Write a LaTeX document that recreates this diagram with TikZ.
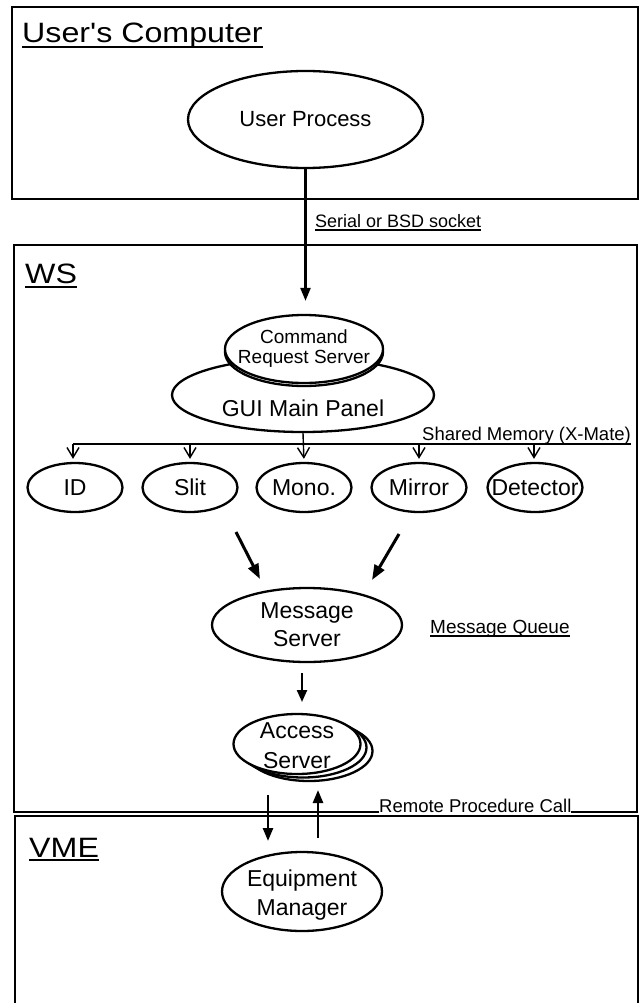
\documentclass[tikz,border=0pt]{standalone}
\usepackage{fontspec}
\usepackage{graphicx}
\setmainfont{Liberation Sans}[Ligatures=TeXOff]
\usetikzlibrary{shapes.geometric,arrows.meta}
\newcommand\fsz[2]{\fontsize{#1}{#2}\selectfont}
\begin{document}
\begin{tikzpicture}[x=1pt,y=-1pt,
  box/.style={draw, line width=2.7pt},
  ell/.style={draw, ellipse, line width=2.3pt, fill=white, inner sep=0pt},
  lbl/.style={inner sep=0pt, align=center},
  ttl/.style={inner sep=0pt, anchor=base west, font=\fsz{28}{33}},
  note/.style={inner sep=0pt, anchor=base west},
  uline/.style={line width=1.4pt},
  tline/.style={line width=2pt},
  bigarrow/.style={-{Triangle[length=15pt,width=11pt]}, line width=3pt},
  midarrow/.style={-{Triangle[length=13pt,width=10pt]}, line width=2.3pt},
  drop/.style={-{Straight Barb[length=10pt,width=12pt]}, line width=1.4pt},
]
\useasboundingbox (0,0) rectangle (640,1003);
\fill[white] (0,0) rectangle (640,1003);

% frames
\draw[box] (12,7) rectangle (638,199);
\draw[box] (14,245) rectangle (637,812);
\draw[box] (15,816) rectangle (638,1014);

% titles
\node[ttl] (tuc) at (22,43) {\scalebox{1.15}[1]{User's Computer}};
\draw[tline] ([yshift=-4pt]tuc.base west) -- ([yshift=-4pt]tuc.base east);
\node[ttl] (tws) at (25,283) {\scalebox{1.15}[1]{WS}};
\draw[tline] ([yshift=-4pt]tws.base west) -- ([yshift=-4pt]tws.base east);
\node[ttl] (tvme) at (29,857) {\scalebox{1.15}[1]{VME}};
\draw[tline] ([yshift=-3pt]tvme.base west) -- ([yshift=-3pt]tvme.base east);

% user process
\node[ell, minimum width=235pt, minimum height=97pt,
  label={[lbl,font=\fsz{22}{26}]center:User Process}] (up) at (305.5,119.5) {};

% GUI main panel and command request server
\node[ell, minimum width=262pt, minimum height=74pt,
  label={[lbl,font=\fsz{23}{27},yshift=-13.5pt]center:GUI Main Panel}] (gui) at (303,395) {};
\node[ell, minimum width=158pt, minimum height=68pt] (crsb) at (304,352) {};
\node[ell, minimum width=158pt, minimum height=68pt,
  label={[lbl,font=\fsz{19}{20}]center:Command\\Request Server}] (crs) at (304,349) {};

% device panels
\foreach \n/\x/\t in {id/75/ID, slit/190/Slit, mono/304/Mono., mirror/419/Mirror, det/535/Detector}{
  \node[ell, minimum width=95pt, minimum height=49pt,
    label={[lbl,font=\fsz{23}{27}]center:\t}] (\n) at (\x,487.5) {};
}

% message server
\node[ell, minimum width=190pt, minimum height=74pt,
  label={[lbl,font=\fsz{23}{28}]center:Message\\Server}] (ms) at (307,625) {};

% access server stack
\node[ell, minimum width=127pt, minimum height=60pt] (as3) at (309,751) {};
\node[ell, minimum width=127pt, minimum height=60pt] (as2) at (303,747.5) {};
\node[ell, minimum width=127pt, minimum height=60pt,
  label={[lbl,font=\fsz{23}{30},yshift=-2pt]center:Access\\Server}] (as) at (297,744) {};

% equipment manager
\node[ell, minimum width=160pt, minimum height=79pt,
  label={[lbl,font=\fsz{23}{29},yshift=-4pt]center:Equipment\\Manager}] (em) at (302,891.5) {};

% connection user process -> command request server
\draw[midarrow, shorten >=13pt] (up.south) -- (up.south |- crs.north);
\node[note, font=\fsz{18}{21}] (serial) at (315,227) {Serial or BSD socket};
\draw[uline] ([yshift=-3pt]serial.base west) -- ([yshift=-3pt]serial.base east);

% shared memory bus
\coordinate (busL) at (73,444);
\coordinate (busR) at (534,444);
\node[note, font=\fsz{18.5}{22}] (shm) at (422,440) {Shared Memory (X-Mate)};
\draw[uline] ([yshift=-4pt]shm.base west) -- ([yshift=-4pt]shm.base east);
\draw[line width=2.5pt] (busL) -- (busR);
\draw[drop, shorten >=3pt] (gui.south) -- (mono.north);
\draw[drop, shorten >=3pt] (busL) -- (busL |- id.north);
\draw[drop, shorten >=3pt] (slit.north |- busL) -- (slit.north);
\draw[drop, shorten >=3pt] (mirror.north |- busL) -- (mirror.north);
\draw[drop, shorten >=3pt] (busR) -- (busR |- det.north);

% into message server
\coordinate (dA1) at (236,532);
\coordinate (dA2) at (260,579);
\coordinate (dB1) at (399,534);
\coordinate (dB2) at (372,580);
\draw[bigarrow] (dA1) -- (dA2);
\draw[bigarrow] (dB1) -- (dB2);
\node[note, font=\fsz{19}{22}] (mq) at (430,633) {Message Queue};
\draw[uline] ([yshift=-3pt]mq.base west) -- ([yshift=-3pt]mq.base east);

% message server -> access server
\coordinate (m1) at (302,673);
\coordinate (m2) at (302,702);
\draw[-{Triangle[length=12pt,width=10pt]}, line width=2.2pt] (m1) -- (m2);

% RPC
\node[note, font=\fsz{18.5}{22}, fill=white, text depth=2pt] (rpc) at (379,812) {Remote Procedure Call};
\coordinate (r1) at (268,795);
\coordinate (r2) at (268,841);
\coordinate (r3) at (318,838);
\coordinate (r4) at (318,790);
\draw[midarrow, line width=2.5pt] (r1) -- (r2);
\draw[midarrow, line width=2.5pt] (r3) -- (r4);
\end{tikzpicture}
\end{document}
